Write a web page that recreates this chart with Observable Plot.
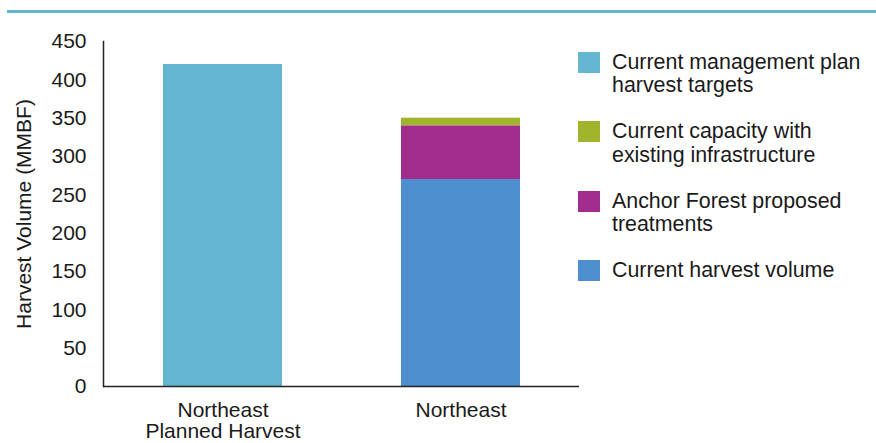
<!DOCTYPE html>
<html>
<head>
<meta charset="utf-8">
<script src="https://cdn.jsdelivr.net/npm/d3@7"></script>
<script src="https://cdn.jsdelivr.net/npm/@observablehq/plot@0.6"></script>
<style>
  html, body { margin: 0; padding: 0; background: #fff; }
  #wrap { position: relative; width: 876px; height: 443px; font-family: "Liberation Sans", Arial, Helvetica, sans-serif; color: #1a1a1a; }
  #rule { position: absolute; left: 7px; top: 9.5px; width: 869px; height: 3px; background: #60b4d0; }
  #legend { position: absolute; left: 578px; top: 52px; }
  .item { position: absolute; left: 0; width: 290px; }
  .swatch { position: absolute; left: 0; top: 0; width: 22px; height: 21px; }
  .label { position: absolute; left: 34px; top: -1px; font-size: 21.4px; line-height: 23.3px; white-space: nowrap; }
</style>
</head>
<body>
<div id="wrap">
  <div id="rule"></div>
  <div id="chart"></div>
  <div id="legend"></div>
</div>
<script>
// Bars on the x axis and how their names are printed
const categories = ["Northeast Planned Harvest", "Northeast"];
const categoryLabels = ["Northeast\nPlanned Harvest", "Northeast"];

// Series, listed in stacking order (bottom to top), values per category (MMBF)
const seriesNames = [
  "Current harvest volume",
  "Anchor Forest proposed treatments",
  "Current capacity with existing infrastructure",
  "Current management plan harvest targets"
];
const currentHarvest = [0, 270];
const anchorTreatments = [0, 70];
const existingCapacity = [0, 10];
const planTargets = [420, 0];
const seriesColors = ["#4d8fcd", "#a22b8e", "#a2b42b", "#64b5cf"];

// Legend lists series top-down as in the stack, plan targets first
const legendOrder = [
  "Current management plan harvest targets",
  "Current capacity with existing infrastructure",
  "Anchor Forest proposed treatments",
  "Current harvest volume"
];
const legendLines = {
  "Current management plan harvest targets": ["Current management plan", "harvest targets"],
  "Current capacity with existing infrastructure": ["Current capacity with", "existing infrastructure"],
  "Anchor Forest proposed treatments": ["Anchor Forest proposed", "treatments"],
  "Current harvest volume": ["Current harvest volume"]
};

const yTicks = [0, 50, 100, 150, 200, 250, 300, 350, 400, 450];

const seriesValues = [currentHarvest, anchorTreatments, existingCapacity, planTargets];
const rows = [];
seriesNames.forEach((s, i) => {
  categories.forEach((c, j) => {
    if (seriesValues[i][j] > 0) rows.push({category: c, series: s, value: seriesValues[i][j]});
  });
});

const colorOf = Object.fromEntries(seriesNames.map((s, i) => [s, seriesColors[i]]));

const chart = Plot.plot({
  width: 876,
  height: 443,
  marginLeft: 103,
  marginRight: 297,
  marginTop: 41,
  marginBottom: 57,
  style: {fontFamily: "Liberation Sans, Arial, Helvetica, sans-serif", fontSize: "21px", color: "#1a1a1a", background: "#fff"},
  x: {
    domain: categories,
    paddingInner: 0.5,
    paddingOuter: 0.25,
    label: null
  },
  y: {domain: [0, 450]},
  color: {domain: seriesNames, range: seriesColors},
  marks: [
    Plot.barY(rows, {x: "category", y: "value", fill: "series", order: seriesNames}),
    Plot.axisX({
      tickSize: 0,
      tickPadding: 16,
      tickFormat: (d) => categoryLabels[categories.indexOf(d)],
      lineHeight: 1,
      label: null
    }),
    Plot.axisY({
      ticks: yTicks,
      tickSize: 0,
      tickPadding: 17,
      label: "Harvest Volume (MMBF)",
      labelAnchor: "center",
      labelArrow: false,
      labelOffset: 87
    }),
    Plot.frame({anchor: "left", stroke: "#222", strokeWidth: 1.5}),
    Plot.ruleY([0], {stroke: "#222", strokeWidth: 1.5})
  ]
});
document.getElementById("chart").appendChild(chart);

// Legend swatches and wrapped labels
const legend = document.getElementById("legend");
legendOrder.forEach((s, i) => {
  const item = document.createElement("div");
  item.className = "item";
  item.style.top = (i * 69.3) + "px";
  const sw = document.createElement("div");
  sw.className = "swatch";
  sw.style.background = colorOf[s];
  const lab = document.createElement("div");
  lab.className = "label";
  lab.innerHTML = legendLines[s].join("<br>");
  item.appendChild(sw);
  item.appendChild(lab);
  legend.appendChild(item);
});
</script>
</body>
</html>
